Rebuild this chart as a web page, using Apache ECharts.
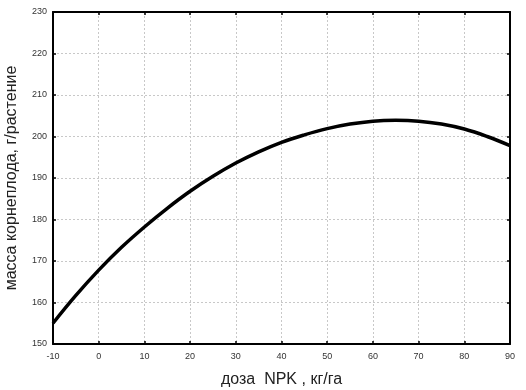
<!DOCTYPE html>
<html>
<head>
<meta charset="utf-8">
<script src="https://cdn.jsdelivr.net/npm/echarts@6/dist/echarts.min.js"></script>
<style>
  html, body { margin: 0; padding: 0; background: #fff; }
</style>
</head>
<body>
<div id="chart" style="width: 526px;height: 390px;"></div>
<script>
// доза NPK, кг/га
var doses = [-10, -5, 0, 5, 10, 15, 20, 25, 30, 35, 40, 45, 50, 55, 60, 65, 70, 75, 80, 85, 90]
// масса корнеплода, г/растение
var mass = [155, 161.7, 167.8, 173.3, 178.2, 182.7, 186.8, 190.4, 193.6, 196.3, 198.6,
  200.4, 201.9, 203, 203.7, 203.9, 203.7, 203, 201.8, 200, 197.8]

var points = doses.map(function(d, i) { return [d, mass[i]] })

var frameLine = { show: true, onZero: false, lineStyle: { color: '#000', width: 2 } }
var tickIn = { show: true, inside: true, length: 3, lineStyle: { color: '#000', width: 1.5 } }
var gridDots = { show: true, lineStyle: { color: '#c8c8c8', type: [2, 2], width: 1 } }
var tickFont = { color: '#333', fontSize: 9, fontFamily: 'Liberation Sans' }

var option = {
  animation: false,
  grid: { left: 53, top: 12, right: 16, bottom: 46, outerBoundsMode: 'none' },
  xAxis: [{
    type: 'value',
    min: -10,
    max: 90,
    interval: 10,
    name: 'доза  NPK , кг/га',
    nameLocation: 'middle',
    nameGap: 28,
    nameTextStyle: { color: '#222', fontSize: 16, fontFamily: 'Liberation Sans' },
    axisLine: frameLine,
    axisTick: tickIn,
    axisLabel: Object.assign({ margin: 8 }, tickFont),
    splitLine: gridDots
  }, {
    type: 'value',
    position: 'top',
    min: -10,
    max: 90,
    interval: 10,
    axisLine: frameLine,
    axisTick: tickIn,
    axisLabel: { show: false },
    splitLine: { show: false }
  }],
  yAxis: [{
    type: 'value',
    min: 150,
    max: 230,
    interval: 10,
    name: 'масса корнеплода, г/растение',
    nameLocation: 'middle',
    nameGap: 33,
    nameTextStyle: { color: '#222', fontSize: 16, fontFamily: 'Liberation Sans' },
    axisLine: frameLine,
    axisTick: tickIn,
    axisLabel: Object.assign({ margin: 6 }, tickFont),
    splitLine: gridDots
  }, {
    type: 'value',
    position: 'right',
    min: 150,
    max: 230,
    interval: 10,
    axisLine: frameLine,
    axisTick: tickIn,
    axisLabel: { show: false },
    splitLine: { show: false }
  }],
  series: [{
    type: 'line',
    data: points,
    smooth: 0.4,
    showSymbol: false,
    lineStyle: { color: '#000', width: 3.5 }
  }]
}

var chart = echarts.init(document.getElementById('chart'))
chart.setOption(option)
</script>
</body>
</html>
